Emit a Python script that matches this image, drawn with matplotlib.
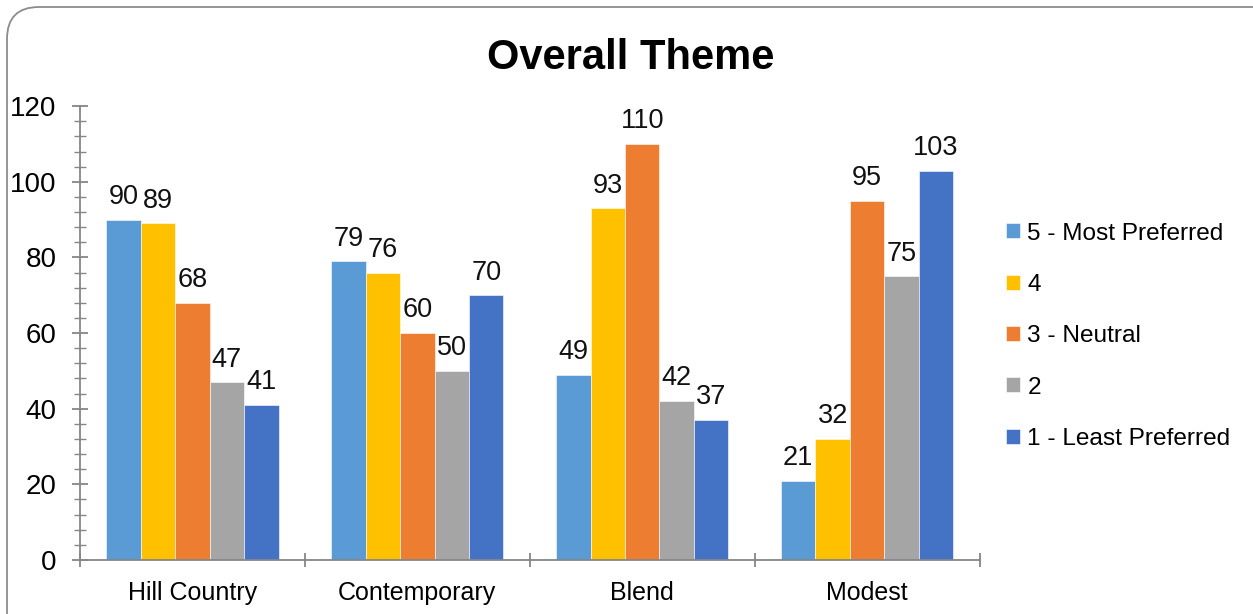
import matplotlib
matplotlib.use('Agg')
import matplotlib.pyplot as plt
from matplotlib.patches import FancyBboxPatch
from matplotlib.transforms import IdentityTransform
from matplotlib.ticker import MultipleLocator
import numpy as np

themes = ['Hill Country', 'Contemporary', 'Blend', 'Modest']
ratings = ['5 - Most Preferred', '4', '3 - Neutral', '2', '1 - Least Preferred']
most_preferred = [90, 79, 49, 21]
rating_4 = [89, 76, 93, 32]
neutral = [68, 60, 110, 95]
rating_2 = [47, 50, 42, 75]
least_preferred = [41, 70, 37, 103]
colors = ['#5B9BD5', '#FFC000', '#ED7D31', '#A5A5A5', '#4472C4']

series = [most_preferred, rating_4, neutral, rating_2, least_preferred]

plt.rcParams['font.family'] = ['Liberation Sans', 'DejaVu Sans']

fig = plt.figure(figsize=(12.53, 6.14), dpi=100)
ax = fig.add_axes([0.0638, 0.088, 0.718, 0.739])

# rounded frame, in pixels; right and bottom edges run off the canvas
frame = FancyBboxPatch((7, -60), 1320, 667, transform=IdentityTransform(),
                       boxstyle='round,pad=0,rounding_size=32',
                       facecolor='none', edgecolor='#8c8c8c', linewidth=1.3,
                       clip_on=False)
fig.patches.append(frame)

x = np.arange(len(themes))
group = 0.766
width = group / len(series)
for i, (vals, label, c) in enumerate(zip(series, ratings, colors)):
    pos = x - group / 2 + width * (i + 0.5)
    bars = ax.bar(pos, vals, width=width, color=c, label=label,
                  edgecolor='white', linewidth=0.4)
    for b, v in zip(bars, vals):
        ax.annotate(str(v), (b.get_x() + b.get_width() / 2, v),
                    xytext=(0, 7), textcoords='offset points',
                    ha='center', va='bottom', fontsize=19.5, color='#111111')

ax.set_xlim(-0.5, len(themes) - 0.5)
ax.set_ylim(0, 120)
ax.yaxis.set_major_locator(MultipleLocator(20))
ax.yaxis.set_minor_locator(MultipleLocator(4))
ax.set_xticks(np.arange(len(themes) + 1) - 0.5)
ax.set_xticklabels([])
ax.set_xticks(x, minor=True)
ax.set_xticklabels(themes, minor=True, fontsize=18)
ax.tick_params(axis='x', which='minor', length=0, pad=15)
ax.tick_params(axis='x', which='major', direction='inout', length=10,
               color='#868686', width=1.3)
ax.tick_params(axis='y', which='major', direction='inout', length=11.5,
               color='#868686', width=1.3, labelsize=20, pad=11)
ax.tick_params(axis='y', which='minor', direction='inout', length=8.5,
               color='#868686', width=1.0)

for s in ['top', 'right']:
    ax.spines[s].set_visible(False)
for s in ['left', 'bottom']:
    ax.spines[s].set_color('#868686')
    ax.spines[s].set_linewidth(1.3)

fig.text(0.503, 0.905, 'Overall Theme', ha='center', va='center',
         fontsize=30, fontweight='bold')

ax.legend(loc='center left', bbox_to_anchor=(1.005, 0.493), frameon=False,
          fontsize=17.6, handlelength=0.57, handleheight=0.57, handletextpad=0.3,
          labelspacing=1.2)

fig.savefig('out.png', dpi=100)
